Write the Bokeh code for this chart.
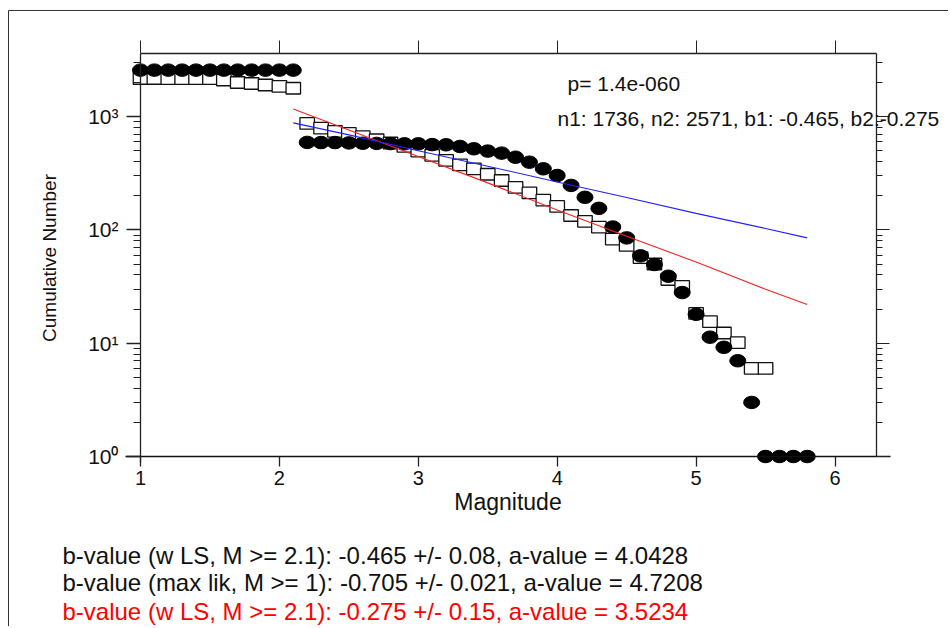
from bokeh.plotting import figure
from bokeh.models import (LogAxis, LinearAxis, FixedTicker, Label,
                          Range1d, ColumnDataSource, CustomJSTickFormatter)
from bokeh.embed import file_html
from bokeh.resources import INLINE

# ---------------- data ----------------
sq_mag = [1.0, 1.1, 1.2, 1.3, 1.4, 1.5, 1.6, 1.7, 1.8, 1.9, 2.0, 2.1,
          2.2, 2.3, 2.4, 2.5, 2.6, 2.7, 2.8, 2.9, 3.0, 3.1, 3.2, 3.3,
          3.4, 3.5, 3.6, 3.7, 3.8, 3.9, 4.0, 4.1, 4.2, 4.3, 4.4, 4.5,
          4.6, 4.7, 4.8, 4.9, 5.0, 5.1, 5.2, 5.3, 5.4, 5.5]
sq_num = [2170, 2170, 2165, 2165, 2160, 2160, 2105, 2000, 1960, 1900, 1845, 1780,
          870, 790, 740, 710, 665, 625, 585, 545, 495, 455, 410, 375,
          345, 310, 273, 237, 212, 183, 161, 134, 119, 106, 83, 73,
          57, 50, 36.5, 31.7, 18.3, 15.5, 12.3, 10.1, 6, 6]

ci_mag = [1.0, 1.1, 1.2, 1.3, 1.4, 1.5, 1.6, 1.7, 1.8, 1.9, 2.0, 2.1,
          2.2, 2.3, 2.4, 2.5, 2.6, 2.7, 2.8, 2.9, 3.0, 3.1, 3.2, 3.3,
          3.4, 3.5, 3.6, 3.7, 3.8, 3.9, 4.0, 4.1, 4.2, 4.3, 4.4, 4.5,
          4.6, 4.7, 4.8, 4.9, 5.0, 5.1, 5.2, 5.3, 5.4, 5.5, 5.6, 5.7, 5.8]
ci_num = [2571, 2571, 2571, 2571, 2571, 2571, 2571, 2571, 2571, 2571, 2571, 2571,
          592, 590, 590, 586, 582, 580, 578, 575, 575, 566, 564, 545,
          520, 496, 476, 438, 396, 346, 302, 247, 194, 155, 106, 85,
          59, 49.5, 39, 28, 18, 11.3, 9.2, 7, 3, 1, 1, 1, 1]

fit_mag = [2.1, 2.5, 3.0, 3.5, 4.0, 4.5, 5.0, 5.5, 5.8]
fit_red = [1165, 760, 445, 260, 150, 88, 52, 30, 22]
fit_blue = [880, 690, 500, 365, 265, 193, 140, 103, 85]

x_ticks = [1, 2, 3, 4, 5, 6]
y_ticks = [1, 10, 100, 1000]
y_minor = [2, 3, 4, 5, 6, 7, 8, 9, 20, 30, 40, 50, 60, 70, 80, 90,
           200, 300, 400, 500, 600, 700, 800, 900, 2000, 3000]
y_tick_labels = {1: "10\u2070", 10: "10\u00b9", 100: "10\u00b2", 1000: "10\u00b3"}

p_text = "p=  1.4e-060"
n_text = "n1: 1736, n2: 2571, b1: -0.465, b2:-0.275"
info_lines = ["b-value (w LS, M  >= 2.1): -0.465 +/- 0.08, a-value = 4.0428",
              "b-value (max lik, M >= 1): -0.705 +/- 0.021, a-value = 4.7208",
              "b-value (w LS, M  >= 2.1): -0.275 +/- 0.15, a-value = 3.5234"]
info_colors = ["#111111", "#111111", "#ff0000"]

FONT = "Liberation Sans"
AX = "#222222"

# ---------------- layout constants (axis box inside the canvas) ----------------
X_LO, X_HI = 1.0, 6.299        # magnitude at left / right axis
Y_LO, Y_HI = 1.0, 3605.0       # count at bottom / top axis

# the frame covers the whole canvas; the axes are drawn at fixed places in it
p = figure(width=948, height=626,
           x_range=Range1d(-0.0079, 6.8171), y_range=Range1d(0.0316, 10585),
           y_axis_type="log", x_axis_location=None, y_axis_location=None,
           output_backend="svg", toolbar_location=None,
           min_border_left=0, min_border_right=0,
           min_border_top=0, min_border_bottom=0)
p.outline_line_color = None
p.background_fill_color = "white"
p.border_fill_color = "white"
for g in p.grid:
    g.visible = False

blank = CustomJSTickFormatter(code="return ''")

# bottom axis
xa = LinearAxis(ticker=FixedTicker(ticks=x_ticks), fixed_location=Y_LO,
                bounds=(0.892, 6.40))
xa.axis_line_width = 1.5
xa.axis_line_color = "#111111"
xa.major_tick_in = 0
xa.major_tick_out = 10
xa.major_tick_line_width = 1.3
xa.major_tick_line_color = AX
xa.minor_tick_line_color = None
xa.major_label_text_font = FONT
xa.major_label_text_font_size = "20px"
xa.major_label_text_color = "#111111"
xa.major_label_standoff = 4
xa.axis_label = "Magnitude"
xa.axis_label_text_font = FONT
xa.axis_label_text_font_size = "23px"
xa.axis_label_text_font_style = "normal"
xa.axis_label_text_color = "#111111"
xa.axis_label_standoff = 1
p.add_layout(xa, "below")

# left axis
ya = LogAxis(ticker=FixedTicker(ticks=y_ticks, minor_ticks=y_minor),
             fixed_location=X_LO, bounds=(0.885, Y_HI))
ya.axis_line_width = 1.3
ya.axis_line_color = AX
ya.major_tick_in = 0
ya.major_tick_out = 14
ya.minor_tick_in = 0
ya.minor_tick_out = 7
ya.major_tick_line_width = 1.3
ya.minor_tick_line_width = 1.2
ya.major_tick_line_color = AX
ya.minor_tick_line_color = AX
ya.major_label_overrides = y_tick_labels
ya.major_label_text_font = FONT
ya.major_label_text_font_size = "21px"
ya.major_label_text_color = "#111111"
ya.major_label_standoff = 8
ya.axis_label = "Cumulative Number"
ya.axis_label_text_font = FONT
ya.axis_label_text_font_size = "19px"
ya.axis_label_text_font_style = "normal"
ya.axis_label_text_color = "#111111"
ya.axis_label_standoff = 25
p.add_layout(ya, "left")

# right axis (ticks only)
ra = LogAxis(ticker=FixedTicker(ticks=y_ticks, minor_ticks=y_minor), formatter=blank,
             fixed_location=X_HI, bounds=(Y_LO, Y_HI))
ra.axis_line_width = 1.3
ra.axis_line_color = AX
ra.major_tick_in = 0
ra.major_tick_out = 13
ra.minor_tick_in = 0
ra.minor_tick_out = 6
ra.major_tick_line_color = AX
ra.minor_tick_line_color = AX
p.add_layout(ra, "right")

# top axis (ticks only)
ta = LinearAxis(ticker=FixedTicker(ticks=x_ticks), formatter=blank,
                fixed_location=Y_HI, bounds=(X_LO, X_HI))
ta.axis_line_width = 1.3
ta.axis_line_color = AX
ta.major_tick_in = 0
ta.major_tick_out = 13
ta.major_tick_line_color = AX
ta.minor_tick_line_color = None
p.add_layout(ta, "above")

# thin frame round the picture (left and top edges)
p.segment(x0=[0.0497, 0.0497], y0=[8643, 8643], x1=[0.0497, 6.85], y1=[0.02, 8643],
          line_color="#333333", line_width=1)

# ---------------- data marks ----------------
sq_src = ColumnDataSource(dict(x=sq_mag, y=sq_num))
ci_src = ColumnDataSource(dict(x=ci_mag, y=ci_num))

p.rect(x="x", y="y", width=14.5, height=11.5, width_units="screen",
       height_units="screen", source=sq_src, fill_color="white",
       line_color="#111111", line_width=1.3)
p.ellipse(x="x", y="y", width=16, height=12.5, width_units="screen",
          height_units="screen", source=ci_src, fill_color="black",
          line_color="black")

p.line(fit_mag, fit_red, line_color="#ff2020", line_width=1.1)
p.line(fit_mag, fit_blue, line_color="#2020ff", line_width=1.1)

# ---------------- annotations ----------------
p.add_layout(Label(x=4.074, y=1960, text=p_text, text_font=FONT,
                   text_font_size="21px", text_baseline="middle",
                   text_color="#111111"))
p.add_layout(Label(x=4.002, y=962, text=n_text, text_font=FONT,
                   text_font_size="21px", text_baseline="middle",
                   text_color="#111111"))

info_y = [0.1341, 0.0765, 0.0430]
for t, yy, c in zip(info_lines, info_y, info_colors):
    p.add_layout(Label(x=0.4385, y=yy, text=t, text_font=FONT,
                       text_font_size="24px", text_baseline="middle",
                       text_color=c))

open("out.html", "w").write(file_html(p, INLINE))
